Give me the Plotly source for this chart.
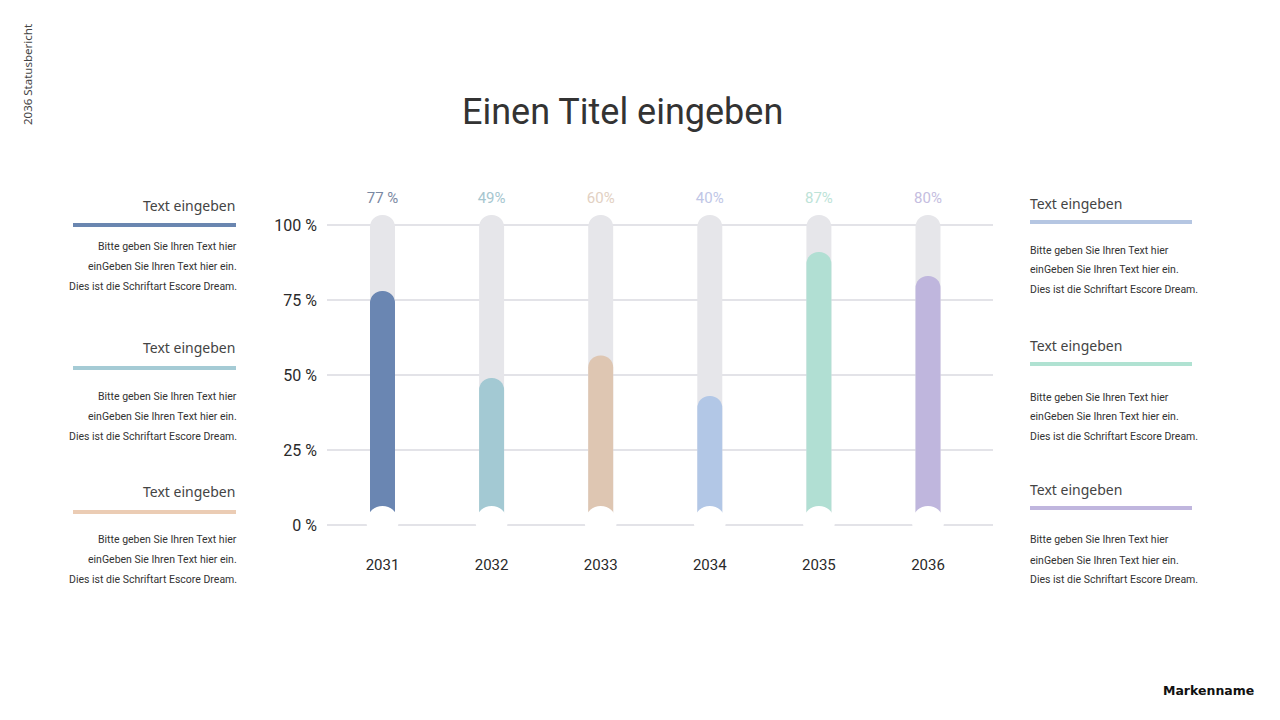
import plotly.graph_objects as go

# ---------------- data ----------------
years = ["2031", "2032", "2033", "2034", "2035", "2036"]
value_labels = ["77 %", "49%", "60%", "40%", "87%", "80%"]
bar_levels = [78, 49, 56.5, 43, 91, 83]          # filled height (%)
track_level = 103.3                               # grey track height (%)
y_tick_vals = [0, 25, 50, 75, 100]
y_tick_text = ["0 %", "25 %", "50 %", "75 %", "100 %"]

bar_colors = ["#6a86b2", "#a3c9d3", "#dec6b2", "#b2c7e6", "#b1dfd3", "#bfb6dd"]
label_colors = ["#7a88a2", "#a6c6cf", "#e2d0c2", "#c0c6e6", "#bde3d8", "#c4bde0"]

panel_heading = "Text eingeben"
panel_body = ["Bitte geben Sie Ihren Text hier",
              "einGeben Sie Ihren Text hier ein.",
              "Dies ist die Schriftart Escore Dream."]
left_panel_colors = ["#6a86b0", "#a5cbd5", "#ebccb4"]
right_panel_colors = ["#b5c6e2", "#b0e2d2", "#c0b6de"]

title_text = "Einen Titel eingeben"
side_text = "2036 Statusbericht"
brand_text = "Markenname"

# ---------------- geometry helpers ----------------
W, H = 1280, 720
L, R, T, B = 327, 993, 195, 545


def px(x):
    return (x - L) / (R - L)


def py(y):
    return (B - y) / (B - T)


xs = list(range(len(years)))
bar_w = 0.229

fig = go.Figure()

# grey tracks (base subplot)
fig.add_trace(go.Bar(
    x=xs, y=[track_level] * len(xs), width=bar_w,
    marker=dict(color="#e6e6ea", cornerradius=12.5, line=dict(width=0)),
    hoverinfo="skip", showlegend=False))

# filled bars (overlaying subplot so they get their own rounded tops)
fig.add_trace(go.Bar(
    x=xs, y=bar_levels, width=bar_w, xaxis="x2",
    marker=dict(color=bar_colors, cornerradius=12.5, line=dict(width=0)),
    hoverinfo="skip", showlegend=False))

# white circles at the base
fig.add_trace(go.Scatter(
    x=xs, y=[1] * len(xs), mode="markers", xaxis="x2",
    marker=dict(size=32, color="#ffffff", line=dict(width=0)),
    hoverinfo="skip", showlegend=False))

# percent labels above
fig.add_trace(go.Scatter(
    x=xs, y=[108.7] * len(xs), mode="text", text=value_labels, xaxis="x2",
    textfont=dict(family="Roboto", size=15, color=label_colors),
    textposition="middle center", cliponaxis=False,
    hoverinfo="skip", showlegend=False))

annotations = []
shapes = []

# title
annotations.append(dict(text=title_text, x=px(622), y=py(112), xref="paper", yref="paper",
                        showarrow=False, xanchor="center", yanchor="middle",
                        font=dict(family="Roboto", size=36, color="#333333")))
# side vertical text
annotations.append(dict(text=side_text, x=px(27), y=py(75), xref="paper", yref="paper",
                        showarrow=False, xanchor="center", yanchor="middle", textangle=-90,
                        font=dict(family="Noto Sans", size=11.5, color="#444444")))
# brand
annotations.append(dict(text="<b>" + brand_text + "</b>", x=px(1208), y=py(690), xref="paper", yref="paper",
                        showarrow=False, xanchor="center", yanchor="middle",
                        font=dict(family="DejaVu Sans", size=12.5, color="#111111")))

left_blocks = [(205, 225, [246, 266, 286]),
               (347, 368, [396, 416, 436]),
               (491, 512, [539, 559, 579])]
right_blocks = [(203, 222, [250, 269, 289]),
                (345, 364, [397, 416, 436]),
                (489, 508, [539, 560, 579])]

for (hy, ly, bys), col in zip(left_blocks, left_panel_colors):
    annotations.append(dict(text=panel_heading, x=px(237), y=py(hy), xref="paper", yref="paper",
                            showarrow=False, xanchor="right", yanchor="middle",
                            font=dict(family="Noto Sans", size=14, color="#444444")))
    shapes.append(dict(type="line", xref="paper", yref="paper", x0=px(73), x1=px(236),
                       y0=py(ly), y1=py(ly), line=dict(color=col, width=4)))
    for t, by in zip(panel_body, bys):
        annotations.append(dict(text=t, x=px(238.5), y=py(by), xref="paper", yref="paper",
                                showarrow=False, xanchor="right", yanchor="middle",
                                font=dict(family="Roboto", size=10.5, color="#333333")))

for (hy, ly, bys), col in zip(right_blocks, right_panel_colors):
    annotations.append(dict(text=panel_heading, x=px(1028), y=py(hy), xref="paper", yref="paper",
                            showarrow=False, xanchor="left", yanchor="middle",
                            font=dict(family="Noto Sans", size=14, color="#444444")))
    shapes.append(dict(type="line", xref="paper", yref="paper", x0=px(1030), x1=px(1192),
                       y0=py(ly), y1=py(ly), line=dict(color=col, width=4)))
    for t, by in zip(panel_body, bys):
        annotations.append(dict(text=t, x=px(1028), y=py(by), xref="paper", yref="paper",
                                showarrow=False, xanchor="left", yanchor="middle",
                                font=dict(family="Roboto", size=10.5, color="#333333")))

x0 = 382.5
step = 109.1
x_range = [(L - x0) / step, (R - x0) / step]
fig.update_layout(
    width=W, height=H,
    margin=dict(l=L, r=W - R, t=T, b=H - B, pad=0),
    paper_bgcolor="#ffffff", plot_bgcolor="#ffffff",
    barmode="overlay", showlegend=False,
    annotations=annotations, shapes=shapes,
    xaxis=dict(range=x_range, tickvals=xs, ticktext=years,
               showgrid=False, zeroline=False, showline=False, ticks="",
               ticklabelstandoff=9,
               tickfont=dict(family="Roboto", size=15, color="#2a2a2a"), fixedrange=True),
    xaxis2=dict(range=x_range, overlaying="x", anchor="y", visible=False, fixedrange=True),
    yaxis=dict(range=[(525 - B) / 3, (525 - T) / 3], tickvals=y_tick_vals, ticktext=y_tick_text,
               showgrid=True, gridcolor="#e3e3e8", gridwidth=2, zeroline=False, showline=False,
               ticks="", ticklabelstandoff=9,
               tickfont=dict(family="Roboto", size=16, color="#2a2a2a"), fixedrange=True),
)

fig.write_html("out.html", config={"displayModeBar": False},
               post_script="document.body.style.margin='0';")
